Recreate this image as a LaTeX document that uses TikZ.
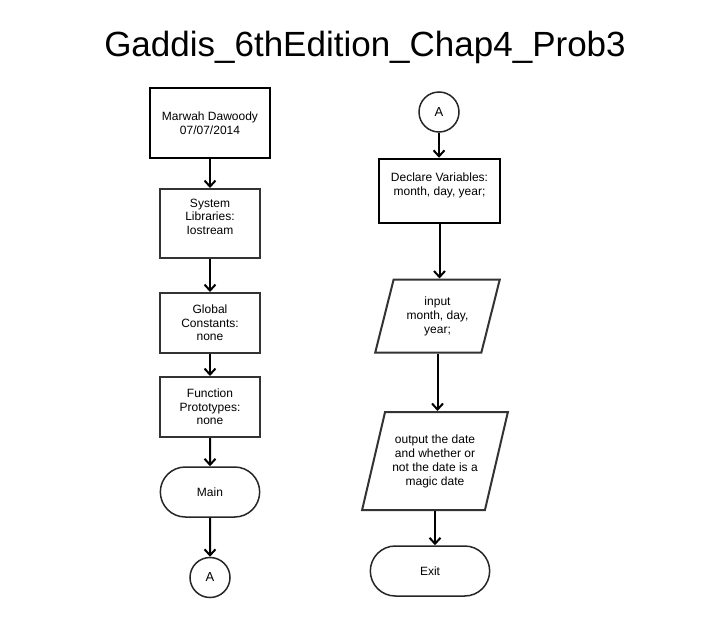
\documentclass[tikz,border=0pt]{standalone}
\usepackage{fontspec}
\setmainfont{Liberation Sans}
\usepackage{tikz}
\usetikzlibrary{shapes.geometric, shapes.misc, arrows.meta, positioning}

\begin{document}
\begin{tikzpicture}[x=1pt, y=-1pt, node distance=85pt]
        % Define block styles
        \tikzstyle{headbox} = [rectangle, minimum width=120pt, minimum height=70pt, text centered, align=center, draw=black, line width=2.5pt, font=\fontsize{12}{13.5}\selectfont]
        \tikzstyle{process} = [rectangle, minimum width=100pt, minimum height=60pt, text centered, align=center, draw=black!80, line width=2pt, font=\fontsize{12}{13.5}\selectfont]
        \tikzstyle{startstop} = [rounded rectangle, minimum width=106pt, minimum height=50pt, text centered, draw=black!85, line width=1.5pt, font=\fontsize{12}{13.5}\selectfont]
        \tikzstyle{connector} = [circle, minimum size=40pt, inner sep=0pt, draw=black!85, line width=1.5pt, font=\fontsize{13}{15}\selectfont]
        \tikzstyle{io} = [trapezium, trapezium left angle=72, trapezium right angle=108, trapezium stretches=true, inner sep=1pt, text centered, align=center, draw=black!80, line width=2pt, font=\fontsize{12}{14}\selectfont]
        \tikzstyle{arrow} = [line width=2pt, ->, >={Straight Barb[length=6pt, width=11pt]}]

        \useasboundingbox (0,0) rectangle (728,616);

        % Title
        \node (title) at (365,47) {\fontsize{35}{40}\selectfont Gaddis\_6thEdition\_Chap4\_Prob3};

        % Nodes, left column
        \node (author) [headbox] at (210,123) {Marwah Dawoody\\07/07/2014};
        \node (libs) [process, below of=author, yshift=-15.5pt, minimum height=69pt] {System\\Libraries:\\Iostream\\~};
        \node (consts) [process, below of=libs, yshift=-14.5pt] {Global\\Constants:\\none};
        \node (protos) [process, below of=consts, yshift=1pt] {Function\\Prototypes:\\none};
        \node (main) [startstop, below of=protos] {Main};
        \node (goA) [connector, below of=main, yshift=-0.5pt] {A};

        % Nodes, right column
        \node (fromA) [connector] at (439,112) {A};
        \node (decl) [headbox, below of=fromA, yshift=6pt, xshift=0.5pt, minimum width=121pt, minimum height=64pt] {Declare Variables:\\month, day, year;\\~};
        \node (input) [io, below of=decl, yshift=-40pt, xshift=-2pt, minimum width=125pt, minimum height=73pt] {input\\month, day,\\year;};
        \node (output) [io, below of=input, yshift=-60pt, xshift=-2.5pt, minimum width=146pt, minimum height=98pt, trapezium left angle=70, trapezium right angle=110] {output the date\\and whether or\\not the date is a\\magic date};
        \node (exit) [startstop, below of=output, yshift=-25pt, xshift=-5pt, minimum width=126pt] {Exit};

        % Arrows
        \draw [arrow] (author) -- (libs);
        \draw [arrow] (libs) -- (consts);
        \draw [arrow] (consts) -- (protos);
        \draw [arrow] (protos) -- (main);
        \draw [arrow] (main) -- (goA);
        \draw [arrow] (fromA) -- (fromA |- decl.north);
        \draw [arrow] (decl.south) -- (decl.south |- input.north);
        \draw [arrow] (input.south) -- (input.south |- output.north);
        \draw [arrow] (output.south) -- (output.south |- exit.north);
    \end{tikzpicture}
\end{document}
